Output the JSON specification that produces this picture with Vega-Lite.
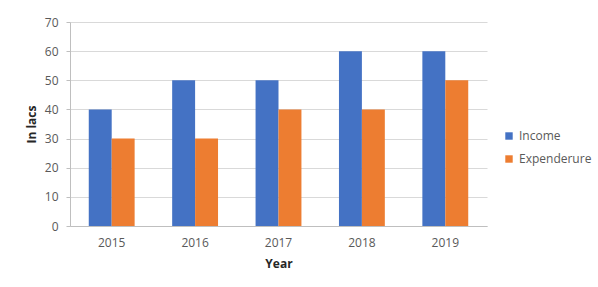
{
  "$schema": "https://vega.github.io/schema/vega-lite/v6.json",
  "width": 417,
  "height": 204,
  "autosize": "none",
  "padding": {"left": 70, "top": 22, "right": 111, "bottom": 61},
  "background": "white",
  "data": {
    "values": [
      {"Year": "2015", "Series": "Income", "Value": 40},
      {"Year": "2015", "Series": "Expenderure", "Value": 30},
      {"Year": "2016", "Series": "Income", "Value": 50},
      {"Year": "2016", "Series": "Expenderure", "Value": 30},
      {"Year": "2017", "Series": "Income", "Value": 50},
      {"Year": "2017", "Series": "Expenderure", "Value": 40},
      {"Year": "2018", "Series": "Income", "Value": 60},
      {"Year": "2018", "Series": "Expenderure", "Value": 40},
      {"Year": "2019", "Series": "Income", "Value": 60},
      {"Year": "2019", "Series": "Expenderure", "Value": 50}
    ]
  },
  "config": {
    "view": {"stroke": null},
    "font": "Open Sans"
  },
  "mark": {"type": "bar"},
  "encoding": {
    "x": {
      "field": "Year",
      "type": "nominal",
      "scale": {"paddingInner": 0.45, "paddingOuter": 0.225},
      "axis": {
        "title": "Year",
        "titleFontWeight": "bold",
        "titleFontSize": 12,
        "titleColor": "#262626",
        "titlePadding": 10,
        "labelAngle": 0,
        "labelFontSize": 12,
        "labelColor": "#595959",
        "labelPadding": 11,
        "ticks": false,
        "domainColor": "#bfbfbf"
      }
    },
    "xOffset": {"field": "Series", "sort": ["Income", "Expenderure"]},
    "y": {
      "field": "Value",
      "type": "quantitative",
      "scale": {"domain": [0, 70]},
      "axis": {
        "title": "In lacs",
        "titleFontWeight": "bold",
        "titleFontSize": 12,
        "titleColor": "#262626",
        "titlePadding": 6,
        "values": [0, 10, 20, 30, 40, 50, 60, 70],
        "labelFontSize": 12,
        "labelColor": "#595959",
        "labelPadding": 8,
        "tickSize": 4,
        "tickColor": "#bfbfbf",
        "domainColor": "#bfbfbf",
        "gridColor": "#d9d9d9"
      }
    },
    "color": {
      "field": "Series",
      "type": "nominal",
      "sort": ["Income", "Expenderure"],
      "scale": {"domain": ["Income", "Expenderure"], "range": ["#4472C4", "#ED7D31"]},
      "legend": {
        "title": null,
        "orient": "none",
        "legendX": 433,
        "legendY": 108,
        "symbolType": "square",
        "symbolSize": 55,
        "symbolStrokeWidth": 0,
        "labelFontSize": 12,
        "labelColor": "#595959",
        "rowPadding": 11,
        "labelOffset": 4
      }
    }
  }
}
